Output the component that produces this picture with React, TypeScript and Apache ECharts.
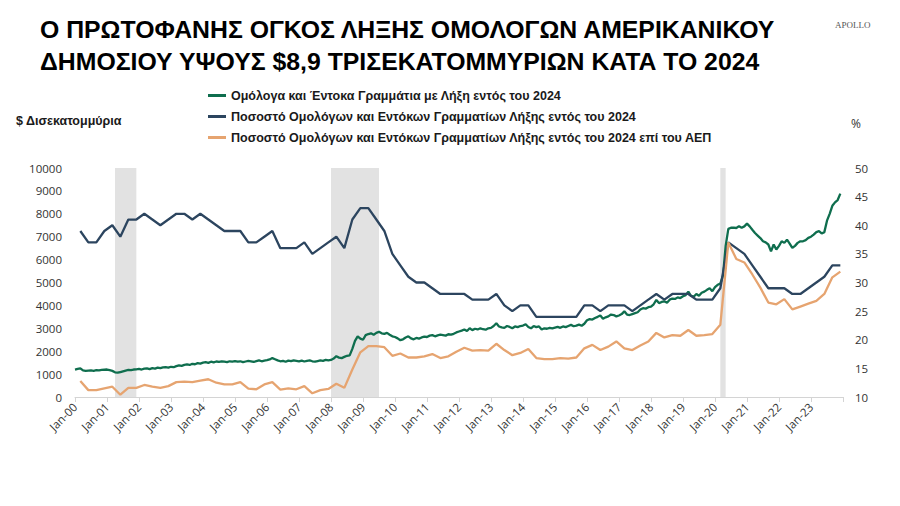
import React, { useEffect, useRef } from "react";
import * as echarts from "echarts";

// ---------- DATA ----------
const years = [2000, 2001, 2002, 2003, 2004, 2005, 2006, 2007, 2008, 2009, 2010, 2011, 2012, 2013, 2014, 2015, 2016, 2017, 2018, 2019, 2020, 2021, 2022, 2023, 2024];
const monthNames = ["Jan", "Feb", "Mar", "Apr", "May", "Jun", "Jul", "Aug", "Sep", "Oct", "Nov", "Dec"];
const quarterMonths = [2, 5, 8, 11];

// Bonds & bills maturing within 2024 ($ bn), monthly Jan-00 .. Dec-23
const maturingDebt = [
  1200, 1230, 1250, 1160, 1140, 1150, 1160, 1140, 1170, 1160, 1180, 1190,
  1200, 1170, 1140, 1080, 1060, 1090, 1120, 1150, 1180, 1170, 1200, 1210,
  1230, 1200, 1240, 1250, 1220, 1260, 1240, 1280, 1260, 1290, 1300, 1280,
  1320, 1300, 1350, 1380, 1360, 1400, 1420, 1400, 1450, 1430, 1480, 1460,
  1500, 1520, 1490, 1540, 1510, 1550, 1530, 1560, 1540, 1520, 1560, 1540,
  1570, 1540, 1560, 1520, 1550, 1580, 1560, 1530, 1570, 1600, 1560, 1590,
  1610, 1640, 1700, 1650, 1600, 1560, 1580, 1540, 1590, 1570, 1600, 1580,
  1560, 1590, 1550, 1580, 1600, 1560, 1540, 1570, 1600, 1580, 1620, 1600,
  1620, 1680, 1780, 1720, 1700, 1750, 1800, 1820, 2100, 2450, 2650, 2550,
  2500, 2700, 2750, 2780, 2720, 2800, 2850, 2780, 2760, 2800, 2720, 2650,
  2620, 2560, 2480, 2520, 2600, 2650, 2560, 2520, 2580, 2550, 2600, 2640,
  2620, 2680, 2700, 2650, 2690, 2720, 2700, 2680, 2740, 2720, 2760, 2820,
  2860, 2900, 2950, 2880, 3000, 2920, 2980, 2950, 3000, 2960, 2940, 3000,
  3020, 3100, 3220, 3080, 3040, 3020, 3100, 3060, 3000, 3080, 3050, 3100,
  3120, 3180, 3060, 3000, 3100, 3050, 3080, 2950, 3000, 2980, 3020, 3000,
  3030, 3060, 3020, 3080, 3050, 3100, 3150, 3090, 3120, 3160, 3110, 3200,
  3350, 3400, 3380, 3450, 3500, 3560, 3420, 3480, 3520, 3600, 3580, 3520,
  3560, 3620, 3740, 3600, 3580, 3620, 3660, 3700, 3820, 3880, 3860, 3920,
  3950, 4050, 4240, 4100, 4150, 4180, 4120, 4250, 4300, 4280, 4350, 4320,
  4400, 4450, 4600, 4420, 4380, 4500, 4420, 4550, 4600, 4680, 4750, 4620,
  4800, 4900, 4950, 5300, 6600, 7340, 7390, 7400, 7380, 7460, 7390, 7450,
  7570, 7450, 7300, 7160, 7050, 6940, 6800, 6750, 6660, 6360, 6660, 6440,
  6600, 6800, 6730, 6870, 6700, 6510, 6600, 6730, 6800, 6800, 6850, 6950,
  7000, 7090, 7200, 7240, 7140, 7200, 7700, 8000, 8350, 8500, 8600, 8880,
];

// Share of debt maturing within 2024 (%), quarterly Mar-00 .. Dec-23
const shareOfDebt = [
  39, 37, 37, 39, 40, 38, 41, 41, 42, 41, 40, 41, 42, 42, 41, 42,
  41, 40, 39, 39, 39, 37, 37, 38, 39, 36, 36, 36, 37, 35, 36, 37,
  38, 36, 41, 43, 43, 41, 39, 35, 33, 31, 30, 30, 29, 28, 28, 28,
  28, 27, 27, 27, 28, 26, 25, 26, 26, 24, 24, 24, 24, 24, 24, 26,
  26, 25, 26, 26, 26, 25, 26, 27, 28, 27, 28, 28, 28, 27, 27, 27,
  29, 37, 36, 35, 33, 31, 29, 29, 29, 28, 28, 29, 30, 31, 33, 33,
];

// Share of debt maturing within 2024 as % of GDP, quarterly Mar-00 .. Dec-23
const shareOfGdp = [
  12.8, 11.2, 11.2, 11.5, 11.8, 10.4, 11.6, 11.6, 12.1, 11.8, 11.6, 11.9,
  12.6, 12.7, 12.6, 12.85, 13.1, 12.5, 12.2, 12.2, 12.6, 11.45, 11.35, 12.2,
  12.6, 11.3, 11.5, 11.35, 11.9, 10.65, 11.2, 11.4, 12.3, 11.6, 14.8, 17.8,
  18.9, 18.9, 18.7, 17.2, 17.6, 16.9, 16.9, 17.1, 17.5, 16.8, 17.1, 17.9,
  18.6, 18.1, 18.2, 18.1, 19.3, 18.2, 17.3, 17.7, 18.4, 16.8, 16.6, 16.6,
  16.8, 16.7, 16.9, 18.5, 19.1, 18.2, 18.8, 19.7, 18.5, 18.2, 19.0, 19.7,
  21.2, 20.4, 20.8, 20.7, 21.7, 20.7, 20.8, 21.0, 22.6, 37.0, 34.1, 33.5,
  31.4, 29.1, 26.5, 26.2, 27.1, 25.3, 25.8, 26.3, 26.8, 28.0, 30.9, 31.9,
];

const recessions = [
  ["Apr-01", "Dec-01"],
  ["Jan-08", "Jul-09"],
  ["Mar-20", "May-20"],
];

const leftTicks = { min: 0, max: 10000, interval: 1000 };
const rightTicks = { min: 10, max: 50, interval: 5 };

const seriesNames = [
  "Ομόλογα και Έντοκα Γραμμάτια με Λήξη εντός του 2024",
  "Ποσοστό Ομολόγων και Εντόκων Γραμματίων Λήξης εντός του 2024",
  "Ποσοστό Ομολόγων και Εντόκων Γραμματίων Λήξης εντός του 2024 επί του ΑΕΠ",
];
const titleLines = [
  "Ο ΠΡΩΤΟΦΑΝΗΣ ΟΓΚΟΣ ΛΗΞΗΣ ΟΜΟΛΟΓΩΝ ΑΜΕΡΙΚΑΝΙΚΟΥ",
  "ΔΗΜΟΣΙΟΥ ΥΨΟΥΣ $8,9 ΤΡΙΣΕΚΑΤΟΜΜΥΡΙΩΝ ΚΑΤΑ ΤΟ 2024",
];

// ---------- derived ----------
const categories: string[] = [];
years.forEach((y) => {
  monthNames.forEach((m, mi) => {
    if (y === 2024 && mi > 0) return;
    categories.push(`${m}-${String(y % 100).padStart(2, "0")}`);
  });
});
const quarterCategory = (i: number) =>
  categories[Math.floor(i / 4) * 12 + quarterMonths[i % 4]];

const COLORS = ["#0f6e4e", "#2c455f", "#e6a470"];
const AXIS_FONT = "'Open Sans', 'Noto Sans', sans-serif";
const TEXT_FONT = "'Liberation Sans', Arial, sans-serif";

export default function App() {
  const ref = useRef<HTMLDivElement>(null);
  useEffect(() => {
    if (!ref.current) return;
    const chart = echarts.init(ref.current, undefined, { renderer: "svg" });
    const option: any = {
      animation: false,
      backgroundColor: "#ffffff",
      grid: { left: 75, right: 57, top: 168, bottom: 109, containLabel: false },
      legend: {
        orient: "vertical",
        left: 208,
        top: 89,
        padding: 0,
        itemWidth: 18,
        itemHeight: 3,
        itemGap: 8,
        icon: "rect",
        data: seriesNames,
        textStyle: { fontFamily: TEXT_FONT, fontSize: 12.5, fontWeight: "bold", color: "#1a1a1a" },
      },
      graphic: [
        { type: "text", left: 40, top: 17, style: { text: titleLines[0], font: `bold 24.8px ${TEXT_FONT}`, fill: "#000" } },
        { type: "text", left: 40, top: 49, style: { text: titleLines[1], font: `bold 24.8px ${TEXT_FONT}`, fill: "#000" } },
        { type: "text", left: 835, top: 20, style: { text: "APOLLO", font: `9px 'Liberation Serif', serif`, fill: "#555" } },
        { type: "text", left: 16, top: 114, style: { text: "$ Δισεκατομμύρια", font: `bold 12.5px ${TEXT_FONT}`, fill: "#1a1a1a" } },
        { type: "text", left: 851, top: 117, style: { text: "%", font: `12px ${AXIS_FONT}`, fill: "#333" } },
      ],
      xAxis: {
        type: "category",
        data: categories,
        boundaryGap: false,
        axisLine: { lineStyle: { color: "#d4d4d4", width: 1 } },
        axisTick: { interval: (i: number) => i % 12 === 0, length: 5, lineStyle: { color: "#d4d4d4" } },
        axisLabel: {
          interval: (i: number) => i % 12 === 0 && i < 288,
          rotate: 45,
          fontFamily: AXIS_FONT,
          fontSize: 11.5,
          color: "#333",
          margin: 8,
        },
        splitLine: { show: false },
      },
      yAxis: [
        {
          type: "value",
          ...leftTicks,
          axisLine: { show: false },
          axisTick: { show: false },
          splitLine: { show: false },
          axisLabel: {
            fontFamily: AXIS_FONT,
            fontSize: 11.5,
            color: "#333",
            margin: 13,
            formatter: (v: number) => String(v),
          },
        },
        {
          type: "value",
          position: "right",
          ...rightTicks,
          axisLine: { show: false },
          axisTick: { show: false },
          splitLine: { show: false },
          axisLabel: {
            fontFamily: AXIS_FONT,
            fontSize: 11.5,
            color: "#333",
            margin: 12,
            formatter: (v: number) => String(v),
          },
        },
      ],
      series: [
        {
          name: "recessions",
          type: "line",
          data: [],
          z: 1,
          silent: true,
          markArea: {
            silent: true,
            itemStyle: { color: "#e2e2e2" },
            data: recessions.map(([a, b]) => [{ xAxis: a }, { xAxis: b }]),
          },
        },
        {
          name: seriesNames[0],
          type: "line",
          yAxisIndex: 0,
          data: maturingDebt,
          symbol: "none",
          z: 3,
          color: COLORS[0],
          lineStyle: { width: 2.3, color: COLORS[0] },
        },
        {
          name: seriesNames[1],
          type: "line",
          yAxisIndex: 1,
          data: shareOfDebt.map((v, i) => [quarterCategory(i), v]),
          symbol: "none",
          z: 3,
          color: COLORS[1],
          lineStyle: { width: 2.3, color: COLORS[1] },
        },
        {
          name: seriesNames[2],
          type: "line",
          yAxisIndex: 1,
          data: shareOfGdp.map((v, i) => [quarterCategory(i), v]),
          symbol: "none",
          z: 3,
          color: COLORS[2],
          lineStyle: { width: 2.3, color: COLORS[2] },
        },
      ],
    };
    chart.setOption(option);
    return () => chart.dispose();
  }, []);
  return (
    <div
      ref={ref}
      style={{ position: "fixed", left: 0, top: 0, width: 900, height: 506, background: "#fff" }}
    />
  );
}
